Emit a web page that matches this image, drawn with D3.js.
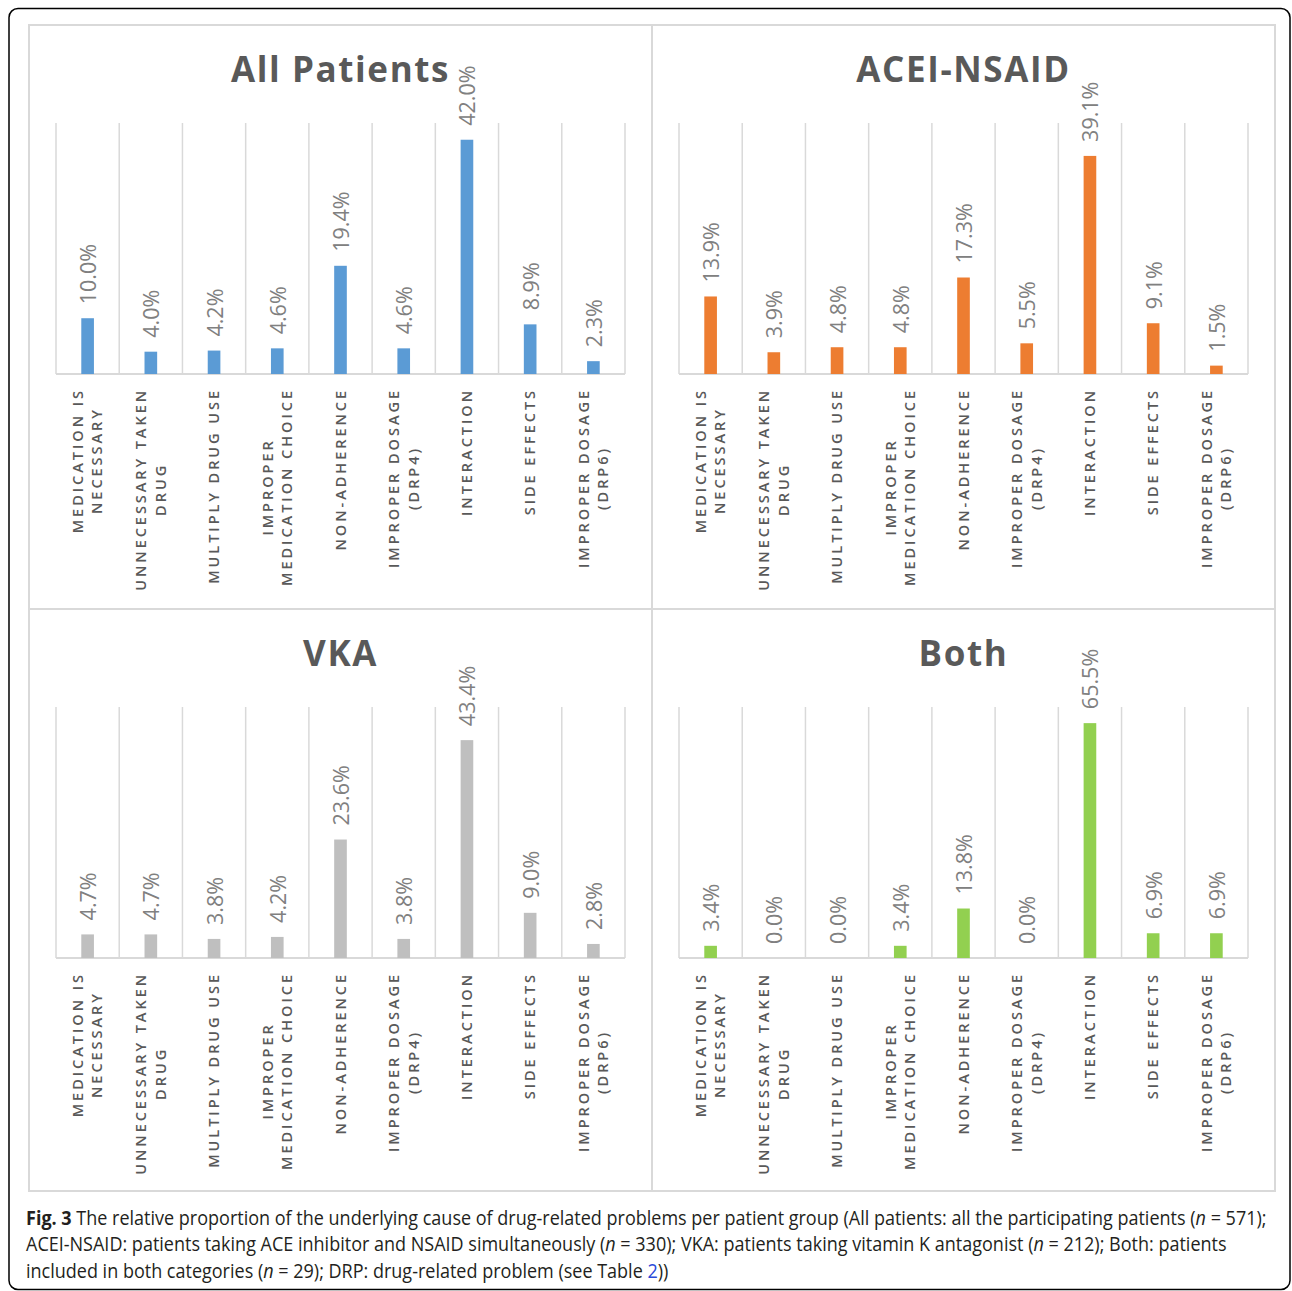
<!DOCTYPE html>
<html>
<head>
<meta charset="utf-8">
<script src="https://d3js.org/d3.v7.min.js"></script>
<style>
  body { margin: 0; background: #fff; }
  svg text { font-family: "Open Sans", sans-serif; }
</style>
</head>
<body>
<script>
// categories (| = line break in the axis label)
const categories = [
  "MEDICATION IS|NECESSARY", "UNNECESSARY TAKEN|DRUG", "MULTIPLY DRUG USE",
  "IMPROPER|MEDICATION CHOICE", "NON-ADHERENCE", "IMPROPER DOSAGE|(DRP4)",
  "INTERACTION", "SIDE EFFECTS", "IMPROPER DOSAGE|(DRP6)"
]
const allPatients = [10.0, 4.0, 4.2, 4.6, 19.4, 4.6, 42.0, 8.9, 2.3]
const aceiNsaid   = [13.9, 3.9, 4.8, 4.8, 17.3, 5.5, 39.1, 9.1, 1.5]
const vka         = [4.7, 4.7, 3.8, 4.2, 23.6, 3.8, 43.4, 9.0, 2.8]
const both        = [3.4, 0.0, 0.0, 3.4, 13.8, 0.0, 65.5, 6.9, 6.9]
const panelTitles = ["All Patients", "ACEI-NSAID", "VKA", "Both"]
const yMax = [45, 45, 50, 70]

const panels = [
  {title: panelTitles[0], values: allPatients, max: yMax[0], color: "#5b9bd5", col: 0, row: 0},
  {title: panelTitles[1], values: aceiNsaid,   max: yMax[1], color: "#ed7d31", col: 1, row: 0},
  {title: panelTitles[2], values: vka,         max: yMax[2], color: "#bfbfbf", col: 0, row: 1},
  {title: panelTitles[3], values: both,        max: yMax[3], color: "#92d050", col: 1, row: 1}
]

const W = 1292, H = 1291
const svg = d3.select("body").append("svg").attr("width", W).attr("height", H)

// outer frame
svg.append("rect").attr("x", 9).attr("y", 8.5).attr("width", 1281).attr("height", 1281)
  .attr("rx", 9).attr("fill", "none").attr("stroke", "#000").attr("stroke-width", 1.5)

const px0 = 29, px1 = 652, px2 = 1275
const py0 = 25, py1 = 609, py2 = 1191
const grid = "#d9d9d9"

svg.append("rect").attr("x", px0).attr("y", py0).attr("width", px2 - px0).attr("height", py2 - py0)
  .attr("fill", "none").attr("stroke", grid).attr("stroke-width", 2)
svg.append("line").attr("x1", px1).attr("x2", px1).attr("y1", py0).attr("y2", py2).attr("stroke", grid).attr("stroke-width", 2)
svg.append("line").attr("x1", px0).attr("x2", px2).attr("y1", py1).attr("y2", py1).attr("stroke", grid).attr("stroke-width", 2)

panels.forEach(p => {
  const left = p.col ? px1 : px0
  const right = p.col ? px2 : px1
  const top = p.row ? py1 : py0
  const g = svg.append("g")

  const x = d3.scaleBand().domain(categories).range([left + 27, right - 27]).padding(0)
  const y = d3.scaleLinear().domain([0, p.max]).range([top + 349, top + 98])

  g.append("text").attr("x", (left + right) / 2).attr("y", top + 57)
    .attr("text-anchor", "middle").attr("font-size", 35).attr("font-weight", 700)
    .attr("letter-spacing", 1.6).attr("fill", "#595959").text(p.title)

  // vertical gridlines between categories
  const edges = categories.map(c => x(c)).concat([x.range()[1]])
  g.selectAll(".vg").data(edges).join("line")
    .attr("x1", d => d).attr("x2", d => d).attr("y1", y(p.max)).attr("y2", y(0))
    .attr("stroke", grid).attr("stroke-width", 1.5)
  g.append("line").attr("x1", x.range()[0]).attr("x2", x.range()[1]).attr("y1", y(0)).attr("y2", y(0))
    .attr("stroke", grid).attr("stroke-width", 2)

  const bw = x.bandwidth() * 0.2
  g.selectAll(".bar").data(p.values).join("rect")
    .attr("x", (d, i) => x(categories[i]) + x.bandwidth() / 2 - bw / 2)
    .attr("y", d => y(d)).attr("width", bw).attr("height", d => y(0) - y(d))
    .attr("fill", p.color)

  g.selectAll(".val").data(p.values).join("text")
    .attr("transform", (d, i) => `translate(${x(categories[i]) + x.bandwidth() / 2 + 1},${y(d) - 14}) rotate(-90)`)
    .attr("dy", "0.35em").attr("font-size", 21.5).attr("fill", "#808080")
    .text(d => d.toFixed(1) + "%")

  // category labels, rotated, longest line touching the axis
  categories.forEach(c => {
    const lines = c.split("|")
    const lg = g.append("g")
    const cx = x(c) + x.bandwidth() / 2
    const ts = lines.map((l, i) => lg.append("text")
      .attr("font-size", 14.6).attr("font-weight", 600).attr("letter-spacing", 2.9)
      .attr("fill", "#595959").attr("text-anchor", "middle").attr("dy", "0.35em").text(l))
    const L = d3.max(ts, t => t.node().getComputedTextLength())
    const cy = y(0) + 14 + L / 2
    ts.forEach((t, i) => {
      const dx = (i - (lines.length - 1) / 2) * 19.5
      t.attr("transform", `translate(${cx + dx},${cy}) rotate(-90)`)
    })
  })
})

// caption
const cap = svg.append("g").attr("fill", "#231f20").attr("font-size", 20)
const capLines = [
  [["Fig. 3", "b"], [" The relative proportion of the underlying cause of drug-related problems per patient group (All patients: all the participating patients ("], ["n", "i"], [" = 571);"]],
  [["ACEI-NSAID: patients taking ACE inhibitor and NSAID simultaneously ("], ["n", "i"], [" = 330); VKA: patients taking vitamin K antagonist ("], ["n", "i"], [" = 212); Both: patients"]],
  [["included in both categories ("], ["n", "i"], [" = 29); DRP: drug-related problem (see Table "], ["2", "l"], ["))"]]
]
const capTexts = capLines.map((parts, i) => {
  const t = cap.append("text").attr("x", 0).attr("y", 1225 + i * 26.5)
  parts.forEach(([s, st]) => {
    const sp = t.append("tspan").text(s)
    if (st === "b") sp.attr("font-weight", 700)
    if (st === "i") sp.attr("font-style", "italic")
    if (st === "l") sp.attr("fill", "#2a49d9")
  })
  return t
})
const w0 = capTexts[0].node().getComputedTextLength()
const sx = (1268 - 26) / w0
capTexts.forEach(t => t.attr("transform", `translate(26,0) scale(${sx},1)`))
</script>
</body>
</html>
